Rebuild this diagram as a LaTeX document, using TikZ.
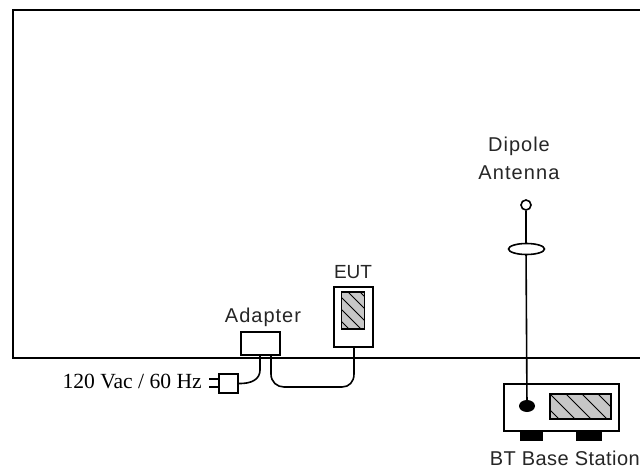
\documentclass[tikz,border=0pt]{standalone}
\usepackage{fontspec}
\usetikzlibrary{shapes.geometric}
\setmainfont{Liberation Sans}
\newfontfamily\labelserif{Liberation Serif}
\tikzset{
  box/.style={draw=black,line width=1.6pt,fill=white,inner sep=0pt,outer sep=0pt,minimum width=#1},
  wire/.style={draw=black,line width=1.6pt},
  hatchbox/.style={draw=black,line width=1.6pt,fill=black!22,inner sep=0pt,outer sep=0pt},
  hatchline/.style={draw=black,line width=1pt},
  lab/.style={inner sep=0pt,font=\fontsize{20}{20}\selectfont,text=black!85},
  foot/.style={fill=black,inner sep=0pt,outer sep=0pt}
}
\newcommand{\spaced}[2]{\addfontfeature{LetterSpace=#1}#2}
\begin{document}
\begin{tikzpicture}[x=1pt,y=-1pt]
\useasboundingbox (0,0) rectangle (640,468);
\fill[white] (0,0) rectangle (640,468);
% room
\coordinate (roomTR) at (640,10);
\coordinate (roomTL) at (13,10);
\coordinate (roomBL) at (13,358);
\coordinate (roomBR) at (640,358);
\draw[wire,line join=miter] (roomTR) -- (roomTL) -- (roomBL) -- (roomBR);
% labels
\node[lab] (dipole) at (519,146) {\spaced{5}{Dipole}};
\node[lab] (antenna) at (519,173) {\spaced{5.5}{Antenna}};
\node[lab,font=\fontsize{19}{19}\selectfont] (eutlab) at (353,272) {EUT};
\node[lab] (adlab) at (263,317) {\spaced{5}{Adapter}};
\node[lab,anchor=east] (btlab) at (640,458) {\spaced{2.3}{BT Base Station}};
\node[inner sep=0pt,anchor=east,font=\labelserif\fontsize{21.6}{22}\selectfont,text=black] (mains) at (202,381) {120 Vac / 60 Hz};
% EUT and adapter
\node[box=39pt,minimum height=60pt] (eut) at (353.5,317) {};
\node[hatchbox,minimum width=23pt,minimum height=37pt] (euts) at (353,310.5) {};
\begin{scope}
\clip (euts.south west) rectangle (euts.north east);
\foreach \d in {-30,-18,-6,6,18}
  \draw[hatchline] (342+\d,292) -- (342+\d+37,329);
\end{scope}
\node[hatchbox,fill=none,minimum width=23pt,minimum height=37pt] at (353,310.5) {};
\node[box=39pt,minimum height=23pt] (adapter) at (260.5,343.5) {};
% plug
\node[box=19pt,minimum height=19pt] (plug) at (228.5,383.5) {};
\coordinate (prongA) at (209,379);
\coordinate (prongB) at (209,387);
\draw[wire,line width=1.2pt] (prongA) -- (plug.west |- prongA);
\draw[wire,line width=1.2pt] (prongB) -- (plug.west |- prongB);
% cords
\coordinate (xa) at (260,0);
\coordinate (xb) at (271,0);
\coordinate (xc) at (354,0);
\draw[wire] (xa |- adapter.south) -- (260,370) .. controls (260,379) and (252,384) .. (plug.east);
\draw[wire] (xb |- adapter.south) -- (271,374) .. controls (271,382) and (277,387) .. (284,387)
  -- (342,387) .. controls (349,387) and (354,382) .. (354,374) -- (xc |- eut.south);
% base station
\node[foot,minimum width=23pt,minimum height=10pt] (footA) at (531.5,436) {};
\node[foot,minimum width=26pt,minimum height=10pt] (footB) at (589,436) {};
\node[box=115pt,minimum height=47pt] (base) at (561.5,407.5) {};
\node[hatchbox,minimum width=61pt,minimum height=25pt] (disp) at (580.5,406.5) {};
\begin{scope}
\clip (disp.south west) rectangle (disp.north east);
\foreach \d in {-16,0,16,32,48}
  \draw[hatchline] (550+\d,394) -- (550+\d+25,419);
\end{scope}
\node[hatchbox,fill=none,minimum width=61pt,minimum height=25pt] at (580.5,406.5) {};
\node[fill=black,ellipse,inner sep=0pt,minimum width=16pt,minimum height=12pt] (jack) at (527,406) {};
% antenna
\node[draw=black,line width=1.6pt,circle,fill=white,inner sep=0pt,minimum size=10pt] (tip) at (526,205) {};
\draw[wire] (tip) -- (526,249) -- (jack.center);
\node[draw=black,line width=1.6pt,ellipse,fill=white,inner sep=0pt,minimum width=36pt,minimum height=11pt] (oval) at (526.5,249) {};
\end{tikzpicture}
\end{document}
